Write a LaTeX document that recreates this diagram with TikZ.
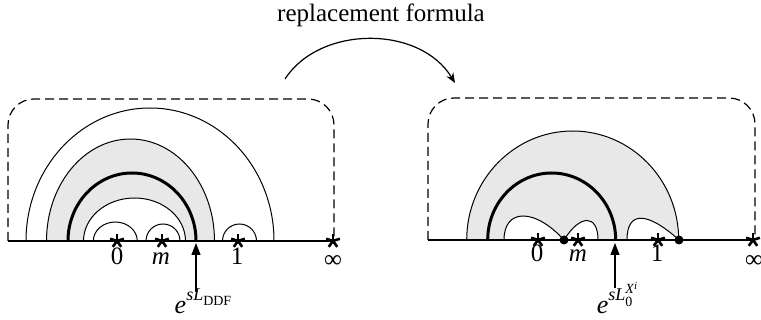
\documentclass[tikz,border=0pt]{standalone}
\usepackage{fontspec}
\setmainfont{Liberation Serif}
\newfontfamily\figfont{Liberation Serif}
\usepackage{tikz}
\usetikzlibrary{arrows.meta}
\definecolor{shadegray}{rgb}{0.91,0.91,0.91}
\newcommand{\astmark}[1]{\foreach \a in {90,162,234,306,378} \draw[line width=1.3pt] (#1) -- ++(\a:3.6pt);}
\newcommand{\supsize}{\fontsize{9}{10}\selectfont}
\newcommand{\subsize}{\fontsize{7}{8}\selectfont}

\begin{document}
\begin{tikzpicture}[x=0.5pt, y=-0.5pt, font=\figfont\fontsize{12.5}{14}\selectfont,
    arcline/.style={line width=0.5pt},
    thickarc/.style={line width=1.5pt},
    axisline/.style={line width=0.7pt},
    framebox/.style={dash pattern=on 4.5pt off 2.5pt, line width=0.6pt, rounded corners=13pt},
    ptlabel/.style={anchor=base, inner sep=0pt, font=\figfont\fontsize{12.5}{14}\selectfont},
    dot/.style={circle, fill, inner sep=0pt, minimum size=4.5pt},
    marker/.style={-{Triangle[length=6pt,width=4.5pt]}, line width=0.6pt}]
    \useasboundingbox (0,0) rectangle (761,320);

    % Title and swap arrow
    \node[anchor=base, inner sep=0pt] (title) at (381,22) {replacement formula};
    \coordinate (swapfrom) at (285,79);
    \coordinate (swapto) at (455,83);
    \draw[-{Stealth[length=5pt,width=4pt]}, line width=0.6pt] (swapfrom) .. controls (320,25) and (420,25) .. (swapto);

    % Left panel: shaded band
    \fill[shadegray] (46.5,241) arc[start angle=180, end angle=360, x radius=84, y radius=102] -- cycle;
    \fill[white] (83.5,241) arc[start angle=180, end angle=360, x radius=51, y radius=43] -- cycle;

    % Left panel: contours
    \draw[arcline] (26,241) arc[start angle=180, end angle=360, x radius=124, y radius=133];
    \draw[arcline] (46.5,241) arc[start angle=180, end angle=360, x radius=84, y radius=102];
    \draw[thickarc] (68,241) arc[start angle=180, end angle=360, x radius=64, y radius=68];
    \draw[arcline] (83.5,241) arc[start angle=180, end angle=360, x radius=51, y radius=43];
    \draw[arcline] (93.3,241) arc[start angle=180, end angle=360, x radius=22, y radius=19];
    \draw[arcline] (146,241) arc[start angle=180, end angle=360, x radius=17, y radius=17];
    \draw[arcline] (222.5,241) arc[start angle=180, end angle=360, x radius=17, y radius=17];

    % Left panel: frame and axis
    \draw[framebox] (8,241) -- (8,99) -- (334,99) -- (334,241);
    \coordinate (zeroA) at (117,241);
    \coordinate (mA) at (162,241);
    \coordinate (oneA) at (238,241);
    \coordinate (infA) at (333,241);
    \draw[axisline] (8,241) -- (infA);
    \astmark{zeroA}
    \astmark{mA}
    \astmark{oneA}
    \astmark{infA}
    \node[ptlabel] (lzeroA) at (117,265) {0};
    \node[ptlabel] (lmA) at (161,265) {\itshape m};
    \node[ptlabel] (loneA) at (237,265) {1};
    \node[ptlabel] (linfA) at (333,268) {∞};

    % Left panel: DDF arrow
    \coordinate (ddftail) at (196,292);
    \coordinate (ddfhead) at (196,243);
    \node[ptlabel, font=\figfont\fontsize{13}{14}\selectfont] (ddf) at (203,314)
        {{\itshape e}\raisebox{1.1ex}{\supsize\itshape sL\raisebox{-0.6ex}{\subsize\upshape DDF}}};
    \draw[marker] (ddftail) -- (ddfhead);

    % Right panel: shaded region and holes
    \fill[shadegray] (466.7,240) arc[start angle=180, end angle=360, x radius=106, y radius=109] -- cycle;
    \filldraw[fill=white, arcline] (504,240) .. controls (504,208) and (535,208) .. (564,240) -- cycle;
    \filldraw[fill=white, arcline] (564,240) .. controls (580,214) and (598,214) .. (598,240) -- cycle;
    \filldraw[fill=white, arcline] (627,240) .. controls (627,210) and (648,212) .. (679,240) -- cycle;
    \draw[arcline] (466.7,240) arc[start angle=180, end angle=360, x radius=106, y radius=109];
    \draw[thickarc] (487.7,240) arc[start angle=180, end angle=360, x radius=64, y radius=67];

    % Right panel: frame and axis
    \draw[framebox] (428,240) -- (428,98) -- (755,98) -- (755,240);
    \coordinate (zeroB) at (538,240);
    \coordinate (mB) at (578,240);
    \coordinate (oneB) at (658,240);
    \coordinate (infB) at (753,240);
    \draw[axisline] (428,240) -- (infB);
    \astmark{zeroB}
    \astmark{mB}
    \astmark{oneB}
    \astmark{infB}
    \node[dot] (pinchA) at (564,240) {};
    \node[dot] (pinchB) at (679,240) {};
    \node[ptlabel] (lzeroB) at (537,262) {0};
    \node[ptlabel] (lmB) at (578,262) {\itshape m};
    \node[ptlabel] (loneB) at (657,262) {1};
    \node[ptlabel] (linfB) at (754,268) {∞};

    % Right panel: zero-mode arrow
    \coordinate (xitail) at (615,288);
    \coordinate (xihead) at (615,243);
    \node[ptlabel, font=\figfont\fontsize{13}{14}\selectfont] (xi) at (617,314)
        {{\itshape e}\raisebox{1.1ex}{\supsize\itshape sL\rlap{\raisebox{-0.7ex}{\subsize\upshape 0}}\raisebox{0.9ex}{\subsize X\raisebox{0.6ex}{\fontsize{5.5}{6}\selectfont i}}}};
    \draw[marker] (xitail) -- (xihead);

\end{tikzpicture}
\end{document}
